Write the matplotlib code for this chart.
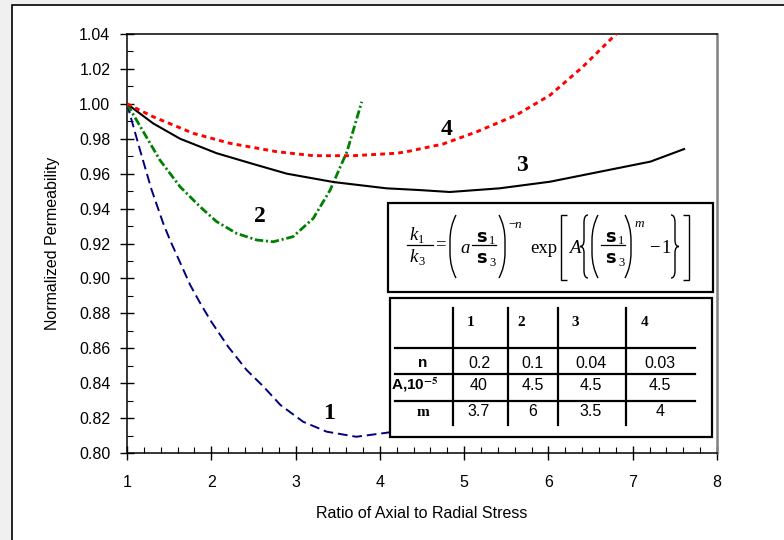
import matplotlib
matplotlib.use("Agg")
import matplotlib.pyplot as plt
from matplotlib.ticker import MultipleLocator, FormatStrFormatter
from matplotlib.patches import Rectangle, PathPatch
from matplotlib.lines import Line2D
from matplotlib.path import Path
from matplotlib.transforms import Affine2D

plt.rcParams['font.family'] = ['Liberation Sans', 'DejaVu Sans']
plt.rcParams['mathtext.fontset'] = 'stix'
plt.rcParams['lines.scale_dashes'] = False

# ---------------- data ----------------
x1 = [1.0, 1.154, 1.29, 1.43, 1.51, 1.75, 1.87, 2.0, 2.2, 2.42, 2.62, 2.82, 3.09, 3.37, 3.72, 4.08, 4.3]
y1 = [1.0, 0.9736, 0.951, 0.9315, 0.922, 0.8962, 0.8857, 0.8752, 0.8609, 0.8475, 0.838, 0.8275, 0.8179, 0.8122, 0.8093, 0.8116, 0.8135]

x2 = [1.0, 1.194, 1.39, 1.63, 1.866, 2.064, 2.30, 2.54, 2.735, 2.97, 3.21, 3.41, 3.61, 3.785]
y2 = [1.0, 0.984, 0.9678, 0.9525, 0.9411, 0.9325, 0.9258, 0.922, 0.921, 0.9239, 0.9344, 0.9506, 0.9726, 1.0012]

x3 = [1.0, 1.31, 1.63, 2.064, 2.50, 2.895, 3.45, 4.08, 4.475, 4.83, 5.42, 6.02, 6.61, 7.21, 7.61]
y3 = [1.0, 0.9888, 0.9800, 0.9717, 0.9655, 0.9600, 0.9552, 0.9516, 0.9506, 0.9495, 0.9516, 0.9554, 0.9611, 0.9669, 0.9741]

x4 = [1.0, 1.31, 1.787, 2.22, 2.775, 3.21, 3.685, 4.20, 4.32, 4.75, 5.15, 5.62, 6.02, 6.41, 6.79, 6.85]
y4 = [1.0, 0.9926, 0.9831, 0.9774, 0.9726, 0.9703, 0.9703, 0.9717, 0.9726, 0.977, 0.984, 0.9936, 1.005, 1.0213, 1.0394, 1.042]

curve_labels = ['1', '2', '3', '4']
label_x = [3.40, 2.58, 5.69, 4.79]
label_y = [0.8227, 0.9352, 0.9645, 0.9855]

table_cols = ['1', '2', '3', '4']
table_rows = ['n', r'A,10$^{\mathbf{-5}}$', 'm']
n_vals = ['0.2', '0.1', '0.04', '0.03']
A_vals = ['40', '4.5', '4.5', '4.5']
m_vals = ['3.7', '6', '3.5', '4']

xticks = [1, 2, 3, 4, 5, 6, 7, 8]
yticks = [0.80, 0.82, 0.84, 0.86, 0.88, 0.90, 0.92, 0.94, 0.96, 0.98, 1.00, 1.02, 1.04]

W, H = 784, 540
fig = plt.figure(figsize=(W / 100, H / 100), dpi=100)
fig.patch.set_facecolor('#f0f0f0')

# pixel coordinates, origin at top-left of the figure
pxT = Affine2D().scale(1.0 / W, -1.0 / H).translate(0, 1) + fig.transFigure

def fx(px):
    return px / W

def fy(py):
    return 1 - py / H

# outer frame
fig.add_artist(Rectangle((fx(12), -0.05), 1.1, fy(5) + 0.05, transform=fig.transFigure,
                         facecolor='white', edgecolor='black', lw=1.2, zorder=-1))

ax = fig.add_axes([fx(127), fy(453), fx(717) - fx(127), fy(34) - fy(453)])
ax.set_facecolor('white')

ax.plot(x1, y1, color='#000080', lw=1.4, dashes=(7, 3.5), zorder=3)
ax.plot(x2, y2, color='#008000', lw=2.0, dashes=(6, 2, 1.5, 2), zorder=3)
ax.plot(x3, y3, color='black', lw=1.5, zorder=3)
ax.plot(x4, y4, color='#ff0000', lw=2.1, dashes=(3.5, 3), zorder=3)

for t, lx, ly in zip(curve_labels, label_x, label_y):
    ax.text(lx, ly, t, family='Liberation Serif', weight='bold', fontsize=17,
            ha='center', va='center', zorder=4)

ax.set_xlim(1, 8)
ax.set_ylim(0.80, 1.04)
ax.set_xticks(xticks)
ax.set_yticks(yticks)
ax.yaxis.set_major_formatter(FormatStrFormatter('%.2f'))
ax.xaxis.set_minor_locator(MultipleLocator(0.2))
ax.yaxis.set_minor_locator(MultipleLocator(0.01))
ax.tick_params(which='major', direction='inout', length=10, width=1, labelsize=11.5)
ax.tick_params(axis='y', which='major', pad=7)
ax.tick_params(axis='x', which='major', pad=11)
ax.tick_params(which='minor', direction='in', length=4, width=0.8)
for s in ['left', 'bottom', 'top']:
    ax.spines[s].set_color('black')
    ax.spines[s].set_linewidth(1.1)
ax.spines['right'].set_color('#808080')
ax.spines['right'].set_linewidth(1.8)

ax.set_xlabel('Ratio of Axial to Radial Stress', fontsize=11.5, labelpad=11)
ax.set_ylabel('Normalized Permeability', fontsize=11.5, labelpad=14)

# ---------------- equation box ----------------
fig.add_artist(Rectangle((388, 203), 713 - 388, 292 - 203, transform=pxT,
                         facecolor='white', edgecolor='black', lw=1.6, zorder=5))

SER = 'Liberation Serif'
FS = 13.5
SUB = 9
EZ = 7

def etxt(x, y, s, size=FS, ha='left', style='normal', weight='normal', family=SER):
    fig.text(x, y, s, transform=pxT, fontsize=size, ha=ha, va='baseline',
             family=family, style=style, weight=weight, zorder=EZ)

def hline(x0, x1_, y, lw=0.9):
    fig.add_artist(Line2D([x0, x1_], [y, y], transform=pxT, color='black', lw=lw, zorder=EZ))

def paren(xe, xm, top, bot, lw=1.0):
    # ends at xe, flattened middle reaching xm
    h = bot - top
    p = Path([(xe, top), (xm, top + 0.18 * h), (xm, top + 0.4 * h),
              (xm, bot - 0.4 * h),
              (xm, bot - 0.18 * h), (xe, bot)],
             [Path.MOVETO, Path.CURVE3, Path.CURVE3, Path.LINETO, Path.CURVE3, Path.CURVE3])
    fig.add_artist(PathPatch(p, transform=pxT, fill=False, lw=lw, color='black', zorder=EZ))

def bracket(xv, xe, top, bot, lw=1.0):
    p = Path([(xe, top), (xv, top), (xv, bot), (xe, bot)],
             [Path.MOVETO, Path.LINETO, Path.LINETO, Path.LINETO])
    fig.add_artist(PathPatch(p, transform=pxT, fill=False, lw=lw, color='black', zorder=EZ))

def brace(x0, d, top, bot, lw=1.0):
    # d > 0 : opening brace with arms to the right; d < 0 : closing brace
    mid = (top + bot) / 2.0
    h = bot - top
    verts = [(x0 + d, top), (x0, top), (x0, top + 0.12 * h),
             (x0, mid - 0.1 * h),
             (x0, mid), (x0 - d, mid),
             (x0, mid), (x0, mid + 0.1 * h),
             (x0, bot - 0.12 * h),
             (x0, bot), (x0 + d, bot)]
    codes = [Path.MOVETO, Path.CURVE3, Path.CURVE3,
             Path.LINETO,
             Path.CURVE3, Path.CURVE3,
             Path.CURVE3, Path.CURVE3,
             Path.LINETO,
             Path.CURVE3, Path.CURVE3]
    fig.add_artist(PathPatch(Path(verts, codes), transform=pxT, fill=False, lw=lw,
                             color='black', zorder=EZ))

BASE = 253
BAR = 244.5
TOP, BOT = 215, 278

# k1 / k3
etxt(409, 240, 'k', style='italic')
etxt(418, 243, '1', size=SUB)
hline(407, 433, BAR)
etxt(409, 262, 'k', style='italic')
etxt(418, 265, '3', size=SUB)
etxt(440, 249.5, '=', ha='center')

# ( a s1/s3 )^-n
paren(456, 450, TOP, BOT)
etxt(465, BASE, 'a', ha='center', style='italic')
etxt(481, 241.5, 's', ha='center', weight='bold', family='DejaVu Sans', size=13)
etxt(489, 243.5, '1', size=SUB)
hline(472, 496, BAR)
etxt(481, 263, 's', ha='center', weight='bold', family='DejaVu Sans', size=13)
etxt(489, 265.5, '3', size=SUB)
paren(499, 505, TOP, BOT)
etxt(508, 228, '\u2212', size=9.5)
etxt(515, 228, 'n', size=9.5, style='italic')

# exp [ A { ( s1/s3 )^m - 1 } ]
etxt(530, BASE, 'exp')
bracket(561, 567, TOP, 280)
etxt(575, BASE, 'A', ha='center', style='italic')
brace(584, 4, TOP, BOT)
paren(598, 592, TOP, BOT)
etxt(610, 241.5, 's', ha='center', weight='bold', family='DejaVu Sans', size=13)
etxt(618, 243.5, '1', size=SUB)
hline(601, 625, BAR)
etxt(610, 263, 's', ha='center', weight='bold', family='DejaVu Sans', size=13)
etxt(618, 265.5, '3', size=SUB)
paren(625, 631, TOP, BOT)
etxt(635, 227, 'm', size=9.5, style='italic')
etxt(654, BASE, '\u2212', ha='center')
etxt(666, BASE, '1', ha='center')
brace(675, -4, TOP, BOT)
bracket(689, 683, TOP, 280)

# ---------------- parameter table ----------------
fig.add_artist(Rectangle((390, 298), 712 - 390, 437 - 298, transform=pxT,
                         facecolor='white', edgecolor='black', lw=1.6, zorder=5))
for py in [348, 374, 401]:
    fig.add_artist(Line2D([395, 695], [py, py], transform=pxT, color='black', lw=1.6, zorder=6))
for px in [453, 508, 558, 626]:
    fig.add_artist(Line2D([px, px], [308, 425], transform=pxT, color='black', lw=1.6, zorder=6))

head_x = [471, 521, 575, 645]
for t, px in zip(table_cols, head_x):
    fig.text(px, 322, t, transform=pxT, family=SER, weight='bold', fontsize=11,
             ha='center', va='center', zorder=7)

row_y = [363, 385, 412]
fig.text(423, row_y[0], table_rows[0], transform=pxT, weight='bold', fontsize=11,
         ha='center', va='center', zorder=7)
fig.text(415, row_y[1], table_rows[1], transform=pxT, weight='bold', fontsize=11,
         ha='center', va='center', zorder=7)
fig.text(423, row_y[2], table_rows[2], transform=pxT, family=SER, weight='bold',
         fontsize=11, ha='center', va='center', zorder=7)

col_x = [479, 533, 591, 660]
for vals, py in zip([n_vals, A_vals, m_vals], row_y):
    for v, px in zip(vals, col_x):
        fig.text(px, py, v, transform=pxT, fontsize=11.5, ha='center', va='center', zorder=7)

fig.savefig('out.png', dpi=100, facecolor=fig.get_facecolor())
